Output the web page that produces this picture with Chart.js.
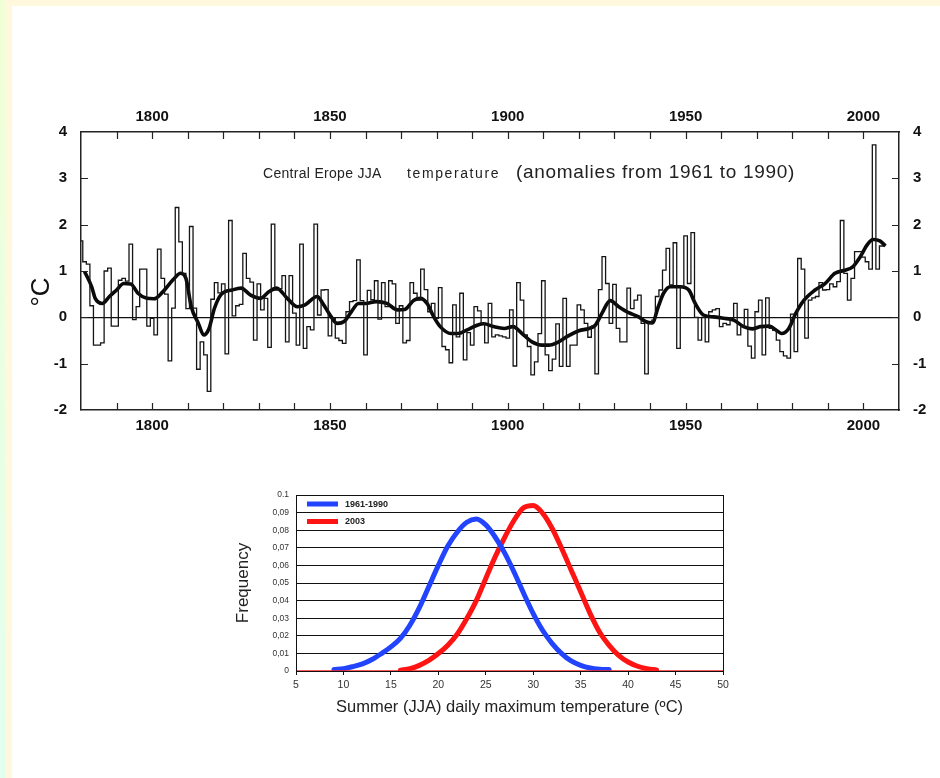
<!DOCTYPE html>
<html>
<head>
<meta charset="utf-8">
<script src="https://cdn.jsdelivr.net/npm/chart.js@4.4.1/dist/chart.umd.min.js"></script>
<style>
html, body { margin: 0; padding: 0; }
body { width: 940px; height: 778px; position: relative; background: #fff; overflow: hidden; }
#stripL { position: absolute; left: 0; top: 0; width: 5px; height: 778px; background: linear-gradient(#f1ffd6, #e2fff0); }
#stripY { position: absolute; left: 5px; top: 0; width: 7px; height: 778px; background: #fff8dc; }
#stripT { position: absolute; left: 5px; top: 0; width: 935px; height: 6px; background: #fff8dc; }
#topChart { position: absolute; left: 0; top: 90px; }
#freqChart { position: absolute; left: 200px; top: 480px; }
</style>
</head>
<body>
<div id="stripL"></div><div id="stripY"></div><div id="stripT"></div>
<canvas id="topChart" width="940" height="360"></canvas>
<canvas id="freqChart" width="540" height="240"></canvas>
<script>
// Central Europe JJA temperature anomalies (vs 1961-1990), one value per year from 1780
var firstYear = 1780;
var anomalies = [
  1.65, 1.2, 1.15, 0.25, -0.6, -0.6, -0.55, 1.0, 1.06, -0.19,
  -0.19, 0.8, 0.84, 0.78, 1.58, -0.05, 0.23, 1.04, 1.04, -0.19,
  -0.02, -0.38, 1.47, 0.84, 0.5, -0.94, 0.2, 2.37, 1.63, 0.95,
  0.19, 1.96, 0.2, -1.12, -0.53, -0.81, -1.6, 0.39, 0.75, 0.53,
  0.72, -0.79, 2.09, 0.03, 0.25, 0.28, 1.38, 0.84, 0.76, -0.49,
  0.72, 0.16, 0.41, -0.65, 2.01, 0.59, 0.62, 0.9, -0.53, 0.9,
  0.09, -0.6, 1.58, -0.67, -0.2, -0.27, 2.01, 0.05, 0.59, 0.6,
  -0.4, -0.02, -0.45, -0.5, -0.56, 0.12, 0.34, 0.36, 1.24, 0.36,
  -0.81, 0.58, 0.38, 0.79, -0.04, 0.75, 0.23, 0.79, 0.72, -0.13,
  0.25, -0.55, -0.5, 0.75, 0.52, 0.37, 1.04, 0.6, 0.12, 0.3,
  -0.02, 0.64, -0.63, -0.7, -0.98, 0.27, -0.42, 0.52, -0.92, -0.33,
  -0.6, 0.23, 0.14, -0.13, -0.55, 0.3, -0.42, -0.38, -0.4, -0.42,
  -0.45, 0.16, -1.05, 0.75, 0.37, -0.38, -0.63, -1.24, -0.96, -0.35,
  0.79, -0.81, -1.15, -0.9, -0.14, -1.06, 0.41, -1.06, -0.6, -0.6,
  0.27, 0.16, -0.13, -0.43, -0.19, -1.22, 0.6, 1.31, 0.73, -0.13,
  0.71, -0.24, -0.53, -0.53, 0.63, 0.19, 0.37, 0.48, -0.13, -1.22,
  -0.13, -0.06, 0.45, 0.59, 1.02, 1.49, 0.7, 1.61, -0.67, 0.66,
  1.76, 0.73, 1.83, 0.0, -0.49, 0.0, -0.53, 0.12, 0.16, 0.19,
  -0.2, -0.13, -0.16, -0.02, 0.3, -0.38, -0.2, 0.17, -0.62, -0.88,
  0.12, 0.37, -0.81, 0.42, -0.24, -0.28, -0.49, -0.74, -0.83, -0.88,
  0.07, -0.74, 1.27, 1.04, -0.45, 0.37, 0.42, 0.45, 0.75, 0.59,
  0.6, 0.72, 0.66, 0.77, 2.09, 0.95, 0.37, 0.84, 1.42, 1.42,
  1.3, 1.2, 1.04, 3.72, 1.04, 1.54, 1.54
];

// smoothed curve
var smoothYears = [1781, 1783, 1784, 1786, 1788, 1790, 1792, 1794, 1796, 1798.5, 1800.5, 1803, 1806, 1808, 1809.5,
  1811, 1813, 1814.5, 1816, 1817.5, 1819.5, 1822.5, 1825, 1827.7, 1830.5, 1832.8, 1835, 1838, 1840.8, 1843,
  1846.4, 1848, 1849.7, 1852, 1854, 1856, 1858, 1860, 1863, 1866, 1869, 1871, 1873.6, 1875.4, 1877.3,
  1879.2, 1881, 1884, 1886, 1888.6, 1891.4, 1893.3, 1896, 1899, 1901.5, 1904, 1906.8, 1909.6, 1911.5, 1914.3,
  1917, 1920, 1922.8, 1924.6, 1926.5, 1928.8, 1931.2, 1934, 1936.8, 1938.7, 1940.6, 1942.4, 1943.8, 1945.7, 1948.5,
  1950.9, 1952.7, 1955, 1958, 1960.7, 1963.5, 1966.3, 1968.7, 1971, 1973.4, 1975.7, 1977, 1979, 1981, 1983.3,
  1986.4, 1989.2, 1992, 1994.5, 1997, 1998.8, 2001.2, 2002.7, 2004.6, 2006.2];
var smoothValues = [0.99, 0.66, 0.41, 0.3, 0.45, 0.59, 0.73, 0.72, 0.52, 0.41, 0.4, 0.55, 0.82, 0.95, 0.84,
  0.23, -0.13, -0.38, -0.24, 0.19, 0.5, 0.59, 0.63, 0.48, 0.41, 0.55, 0.63, 0.41, 0.23, 0.27,
  0.45, 0.3, 0.09, -0.13, -0.09, 0.12, 0.3, 0.3, 0.34, 0.3, 0.16, 0.17, 0.37, 0.41, 0.3,
  0.01, -0.2, -0.35, -0.35, -0.27, -0.17, -0.14, -0.2, -0.24, -0.2, -0.35, -0.53, -0.6, -0.6, -0.53,
  -0.4, -0.29, -0.24, -0.17, 0.09, 0.36, 0.23, 0.1, 0.01, -0.09, -0.12, 0.25, 0.52, 0.66, 0.66,
  0.59, 0.3, 0.05, 0.01, -0.02, -0.06, -0.2, -0.25, -0.2, -0.19, -0.29, -0.35, -0.24, 0.09, 0.37,
  0.59, 0.73, 0.95, 1.01, 1.09, 1.27, 1.58, 1.68, 1.65, 1.54];

var yearTicks = [1800, 1850, 1900, 1950, 2000];

// frequency distributions of summer daily maximum temperature
var blueLabel = '1961-1990';
var blueTemps = [9, 10, 11, 12, 13, 14, 15, 16, 17, 18, 19, 20, 21, 22, 23, 24, 25, 26, 27, 28, 29, 30, 31, 32, 33, 34, 35, 36, 37, 38];
var blueFreq = [0.0008, 0.0013, 0.0025, 0.004, 0.0065, 0.0099, 0.0137, 0.0185, 0.026, 0.036, 0.048, 0.06, 0.071, 0.079, 0.0845,
  0.0863, 0.083, 0.076, 0.067, 0.056, 0.044, 0.0326, 0.023, 0.0156, 0.0099, 0.0057, 0.0032, 0.0017, 0.001, 0.0008];
var redLabel = '2003';
var redTemps = [16, 17, 18, 19, 20, 21, 22, 23, 24, 25, 26, 27, 28, 29, 30, 31, 32, 33, 34, 35, 36, 37, 38, 39, 40, 41, 42, 43];
var redFreq = [0.0005, 0.0013, 0.0032, 0.006, 0.0099, 0.0146, 0.021, 0.0298, 0.04, 0.0526, 0.065, 0.076, 0.0858, 0.0928, 0.094,
  0.0896, 0.081, 0.0696, 0.0573, 0.045, 0.0326, 0.022, 0.0146, 0.0089, 0.0051, 0.0027, 0.0013, 0.0006];

Chart.defaults.font.family = '"Liberation Sans", Arial, Helvetica, sans-serif';
Chart.defaults.color = '#111';

function pts(xs, ys) {
  return xs.map(function (x, i) { return { x: x, y: ys[i] }; });
}

var annualPts = anomalies.map(function (v, i) { return { x: firstYear + i, y: v }; });

var boldFont = { size: 15, weight: 'bold' };
var frameBorder = { display: true, color: '#222', width: 1.5 };

var topDecor = {
  id: 'topDecor',
  afterDraw: function (chart) {
    var ctx = chart.ctx, a = chart.chartArea, x = chart.scales.x, y = chart.scales.y;
    ctx.save();
    ctx.strokeStyle = '#222';
    ctx.lineWidth = 1.2;
    ctx.beginPath();
    x.ticks.forEach(function (t) {
      if (t.value <= x.min || t.value >= x.max) return;
      var px = Math.round(x.getPixelForValue(t.value)) + 0.5;
      ctx.moveTo(px, a.top); ctx.lineTo(px, a.top + 7);
      ctx.moveTo(px, a.bottom); ctx.lineTo(px, a.bottom - 7);
    });
    y.ticks.forEach(function (t) {
      if (t.value <= y.min || t.value >= y.max) return;
      var py = Math.round(y.getPixelForValue(t.value)) + 0.5;
      ctx.moveTo(a.left, py); ctx.lineTo(a.left + 7, py);
      ctx.moveTo(a.right, py); ctx.lineTo(a.right - 7, py);
    });
    ctx.stroke();

    // titles
    ctx.fillStyle = '#222';
    ctx.textBaseline = 'alphabetic';
    ctx.font = '14px "Liberation Sans", Arial, sans-serif';
    ctx.letterSpacing = '0.3px';
    ctx.fillText('Central Erope JJA', 263, 88);
    ctx.letterSpacing = '1.6px';
    ctx.fillText('temperature', 407, 88);
    ctx.font = '19px "Liberation Sans", Arial, sans-serif';
    ctx.letterSpacing = '0.7px';
    ctx.fillText('(anomalies from 1961 to 1990)', 516, 88);
    ctx.letterSpacing = '0px';

    ctx.translate(42, 202);
    ctx.rotate(-Math.PI / 2);
    ctx.font = '26px "Liberation Sans", Arial, sans-serif';
    ctx.textAlign = 'center';
    ctx.textBaseline = 'middle';
    ctx.fillStyle = '#111';
    ctx.fillText('\u00B0C', 0, 0);
    ctx.restore();
  }
};

new Chart(document.getElementById('topChart').getContext('2d'), {
  type: 'line',
  data: {
    datasets: [{
      label: 'annual',
      data: annualPts,
      stepped: 'middle',
      borderColor: '#151515',
      borderWidth: 1.3,
      pointRadius: 0,
      fill: false
    }, {
      label: 'smoothed',
      data: pts(smoothYears, smoothValues),
      cubicInterpolationMode: 'monotone',
      borderColor: '#0a0a0a',
      borderWidth: 3.6,
      pointRadius: 0,
      fill: false
    }]
  },
  options: {
    responsive: false,
    animation: false,
    devicePixelRatio: 1,
    layout: { padding: 0 },
    plugins: { legend: { display: false }, tooltip: { enabled: false } },
    scales: {
      x: {
        type: 'linear', position: 'bottom', min: 1780, max: 2010,
        grid: { display: false, drawTicks: false },
        border: frameBorder,
        ticks: {
          stepSize: 10, autoSkip: false, maxRotation: 0, padding: 7, font: boldFont,
          callback: function (v) { return yearTicks.indexOf(v) >= 0 ? String(v) : ''; }
        },
        afterFit: function (s) { s.height = 40; }
      },
      x2: {
        type: 'linear', position: 'top', min: 1780, max: 2010,
        grid: { display: false, drawTicks: false },
        border: frameBorder,
        ticks: {
          stepSize: 10, autoSkip: false, maxRotation: 0, padding: 6, font: boldFont,
          callback: function (v) { return yearTicks.indexOf(v) >= 0 ? String(v) : ''; }
        },
        afterFit: function (s) { s.height = 42; }
      },
      y: {
        type: 'linear', position: 'left', min: -2, max: 4,
        grid: {
          display: true, drawTicks: false, lineWidth: 1.2,
          color: function (c) { return c.tick && c.tick.value === 0 ? '#111' : 'rgba(0,0,0,0)'; }
        },
        border: frameBorder,
        ticks: { stepSize: 1, padding: 14, font: boldFont, callback: function (v) { return String(v); } },
        afterFit: function (s) { s.width = 81; }
      },
      y2: {
        type: 'linear', position: 'right', min: -2, max: 4,
        grid: { display: false, drawTicks: false },
        border: frameBorder,
        ticks: { stepSize: 1, padding: 14, font: boldFont, callback: function (v) { return String(v); } },
        afterFit: function (s) { s.width = 41; }
      }
    }
  },
  plugins: [topDecor]
});

var freqDecor = {
  id: 'freqDecor',
  afterDraw: function (chart) {
    var ctx = chart.ctx, a = chart.chartArea;
    ctx.save();
    ctx.strokeStyle = '#111';
    ctx.lineWidth = 1;
    ctx.strokeRect(Math.round(a.left) + 0.5, Math.round(a.top) + 0.5, Math.round(a.right - a.left), Math.round(a.bottom - a.top));
    ctx.font = 'bold 9px "Liberation Sans", Arial, sans-serif';
    ctx.textBaseline = 'middle';
    chart.data.datasets.filter(function (d) { return d.showInLegend; }).forEach(function (d, i) {
      var yy = a.top + 9 + i * 17.5;
      ctx.fillStyle = d.borderColor;
      ctx.fillRect(a.left + 11, yy - 2.5, 31, 5);
      ctx.fillStyle = '#222';
      ctx.fillText(d.label, a.left + 49, yy + 0.5);
    });
    ctx.restore();
  }
};

new Chart(document.getElementById('freqChart').getContext('2d'), {
  type: 'line',
  data: {
    datasets: [{
      label: 'zero',
      data: [{ x: 5, y: 0 }, { x: 50, y: 0 }],
      borderColor: '#ff2020',
      borderWidth: 1.5,
      pointRadius: 0
    }, {
      label: blueLabel,
      showInLegend: true,
      data: pts(blueTemps, blueFreq),
      cubicInterpolationMode: 'monotone',
      borderColor: '#2244ff',
      borderWidth: 5,
      borderCapStyle: 'round',
      pointRadius: 0
    }, {
      label: redLabel,
      showInLegend: true,
      data: pts(redTemps, redFreq),
      cubicInterpolationMode: 'monotone',
      borderColor: '#ff1414',
      borderWidth: 5,
      borderCapStyle: 'round',
      pointRadius: 0
    }]
  },
  options: {
    responsive: false,
    animation: false,
    devicePixelRatio: 1,
    layout: { padding: { top: 15, right: 17, left: 0, bottom: 0 } },
    plugins: { legend: { display: false }, tooltip: { enabled: false } },
    scales: {
      x: {
        type: 'linear', min: 5, max: 50,
        grid: { display: true, drawOnChartArea: false, drawTicks: true, tickLength: 4, color: '#111' },
        border: { display: true, color: '#111', width: 1 },
        ticks: { stepSize: 5, autoSkip: false, maxRotation: 0, padding: 4, color: '#333', font: { size: 10.5 } },
        title: {
          display: true, text: 'Summer (JJA) daily maximum temperature (\u00BAC)',
          color: '#222', font: { size: 16.5 }, padding: { top: 0, bottom: 3 }
        },
        afterFit: function (s) { s.height = 49; }
      },
      y: {
        type: 'linear', min: 0, max: 0.1,
        grid: { display: true, drawTicks: false, color: '#111', lineWidth: 1 },
        border: { display: true, color: '#111', width: 1 },
        ticks: {
          stepSize: 0.01, padding: 7, color: '#333', font: { size: 8.5 },
          callback: function (v) {
            var k = Math.round(v * 100);
            if (k === 0) return '0';
            if (k === 10) return '0.1';
            return '0,0' + k;
          }
        },
        title: { display: true, text: 'Frequency', color: '#222', font: { size: 17 }, padding: { top: 33, bottom: 0 } },
        afterFit: function (s) { s.width = 96; }
      }
    }
  },
  plugins: [freqDecor]
});
</script>
</body>
</html>
